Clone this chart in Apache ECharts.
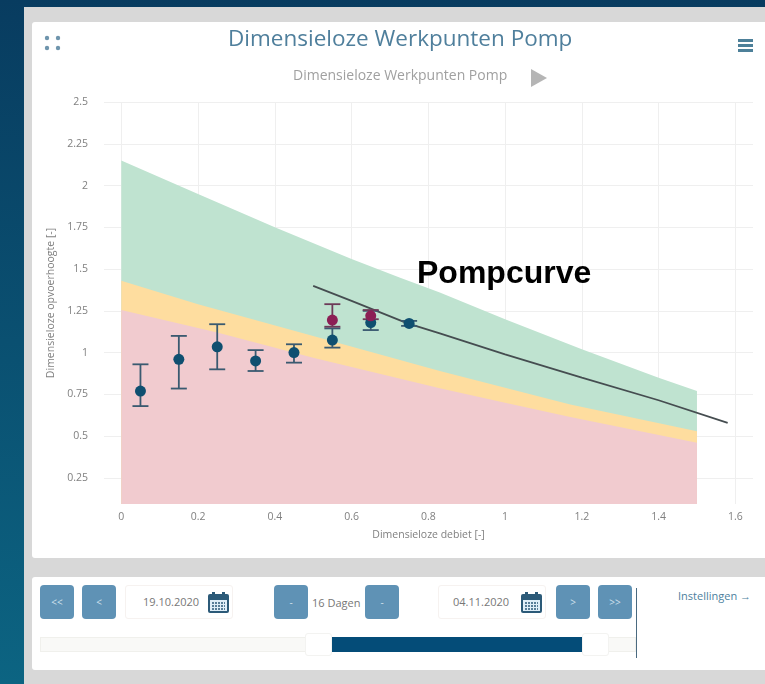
<!DOCTYPE html>
<html>
<head>
<meta charset="utf-8">
<title>Dimensieloze Werkpunten Pomp</title>
<script src="https://cdn.jsdelivr.net/npm/echarts@6/dist/echarts.min.js"></script>
<style>
  html, body { margin: 0; height: 100%; overflow: hidden; }
  body { background: linear-gradient(#083c60, #0c6482); font-family: "Open Sans", sans-serif; }
  .abs { position: absolute; box-sizing: border-box; }
  #panel { left: 24px; top: 7px; width: 741px; height: 677px; background: #d8d8d8; }
  #card1 { left: 32px; top: 22px; width: 733px; height: 536px; background: #fff; border-radius: 3px 0 0 3px; }
  #card2 { left: 32px; top: 577px; width: 733px; height: 93px; background: #fff; border-radius: 3px 0 0 3px; }
  #chart { left: 32px; top: 22px; width: 733px; height: 536px; }
  .btn { top: 585px; width: 34px; height: 34px; background: #5f92b5; color: #cfe0ec; border-radius: 4px;
         font-size: 10px; line-height: 34px; text-align: center; }
  .date { top: 585px; height: 34px; border: 1px solid #f6f2f0; border-radius: 3px; color: #777; font-size: 11px; line-height: 32px; }
  .date svg { position: absolute; top: 5px; right: 2px; }
  .lbl { color: #777; font-size: 11px; }
</style>
</head>
<body>
<div class="abs" id="panel"></div>
<div class="abs" id="card1"></div>
<div class="abs" id="card2"></div>
<div class="abs" id="chart"></div>

<div class="abs btn" style="left:40px">&lt;&lt;</div>
<div class="abs btn" style="left:82px">&lt;</div>
<div class="abs date" style="left:125px;width:108px;padding-left:17px">19.10.2020<svg width="23" height="23" viewBox="0 0 23 23"><rect x="1" y="3" width="21" height="19" rx="2" fill="#2c5a78"/><rect x="3" y="9" width="17" height="11" fill="#dfeef8"/><rect x="5" y="1" width="3" height="5" fill="#2c5a78"/><rect x="15" y="1" width="3" height="5" fill="#2c5a78"/><path d="M5 12h13M5 15h13M5 18h13" stroke="#2c5a78" stroke-width="1.5" stroke-dasharray="2 1"/></svg></div>
<div class="abs btn" style="left:274px">-</div>
<div class="abs lbl" style="left:312px;top:595px">16 Dagen</div>
<div class="abs btn" style="left:365px">-</div>
<div class="abs date" style="left:438px;width:108px;padding-left:14px">04.11.2020<svg width="23" height="23" viewBox="0 0 23 23"><rect x="1" y="3" width="21" height="19" rx="2" fill="#2c5a78"/><rect x="3" y="9" width="17" height="11" fill="#dfeef8"/><rect x="5" y="1" width="3" height="5" fill="#2c5a78"/><rect x="15" y="1" width="3" height="5" fill="#2c5a78"/><path d="M5 12h13M5 15h13M5 18h13" stroke="#2c5a78" stroke-width="1.5" stroke-dasharray="2 1"/></svg></div>
<div class="abs btn" style="left:556px">&gt;</div>
<div class="abs btn" style="left:598px">&gt;&gt;</div>
<div class="abs" style="left:636px;top:588px;width:1px;height:70px;background:#4a6a80"></div>
<div class="abs" style="left:678px;top:588px;color:#4d7f9e;font-size:11px">Instellingen →</div>

<div class="abs" style="left:40px;top:637px;width:596px;height:15px;background:#f9f9f7;border:1px solid #f0f0ec"></div>
<div class="abs" style="left:332px;top:637px;width:250px;height:15px;background:#044c78"></div>
<div class="abs" style="left:305px;top:633px;width:27px;height:23px;background:#fff;border:1px solid #f3f3f1;border-radius:3px"></div>
<div class="abs" style="left:582px;top:633px;width:27px;height:23px;background:#fff;border:1px solid #f3f3f1;border-radius:3px"></div>

<script>
// zones (dimensionless flow, head)
const greenZone = [[0, 2.15], [0.2, 1.95], [0.4, 1.75], [0.6, 1.56], [0.725, 1.45], [0.83, 1.36], [1.0, 1.2], [1.2, 1.02], [1.4, 0.85], [1.5, 0.77]];
const orangeZone = [[0, 1.43], [0.2, 1.29], [0.5, 1.1], [0.83, 0.89], [1.0, 0.79], [1.17, 0.69], [1.5, 0.53]];
const redZone = [[0, 1.255], [0.25, 1.12], [0.5, 0.97], [0.83, 0.787], [1.0, 0.7], [1.17, 0.615], [1.5, 0.46]];

const pompCurve = [[0.5, 1.4], [0.6, 1.31], [0.746, 1.175], [0.83, 1.115], [1.0, 0.99], [1.2, 0.85], [1.4, 0.715], [1.58, 0.58]];

// working points: flow, mean, low, high
const blueFlow = [0.05, 0.15, 0.25, 0.35, 0.45, 0.55, 0.65, 0.75];
const blueMean = [0.77, 0.96, 1.035, 0.95, 1.0, 1.075, 1.18, 1.175];
const blueLow = [0.68, 0.785, 0.9, 0.89, 0.94, 1.03, 1.135, 1.16];
const blueHigh = [0.93, 1.1, 1.17, 1.015, 1.05, 1.145, 1.25, 1.19];

const redFlow = [0.55, 0.65];
const redMean = [1.195, 1.22];
const redLow = [1.155, 1.2];
const redHigh = [1.29, 1.255];

const xTicks = [0, 0.2, 0.4, 0.6, 0.8, 1, 1.2, 1.4, 1.6];
const yTicks = [0.25, 0.5, 0.75, 1, 1.25, 1.5, 1.75, 2, 2.25, 2.5];

const zoneSeries = (data, color) => ({
  type: 'line',
  data: data,
  symbol: 'none',
  silent: true,
  lineStyle: { width: 0 },
  areaStyle: { color: color, opacity: 1, origin: 'start' }
});

const whiskers = (flow, low, high, color) => ({
  type: 'custom',
  data: flow.map((f, i) => [f, low[i], high[i]]),
  encode: { x: 0, y: [1, 2] },
  z: 4,
  renderItem: (params, api) => {
    let lo = api.coord([api.value(0), api.value(1)]);
    let hi = api.coord([api.value(0), api.value(2)]);
    let style = { stroke: color, lineWidth: 1.8, fill: 'none' };
    return {
      type: 'group',
      children: [
        { type: 'line', shape: { x1: lo[0], y1: lo[1], x2: hi[0], y2: hi[1] }, style: style },
        { type: 'line', shape: { x1: lo[0] - 8, y1: lo[1], x2: lo[0] + 8, y2: lo[1] }, style: style },
        { type: 'line', shape: { x1: hi[0] - 8, y1: hi[1], x2: hi[0] + 8, y2: hi[1] }, style: style }
      ]
    };
  }
});

const dots = (flow, mean, color) => ({
  type: 'scatter',
  data: flow.map((f, i) => [f, mean[i]]),
  symbolSize: 11,
  itemStyle: { color: color, opacity: 1 },
  z: 5
});

const axisFont = { color: '#808080', fontSize: 10.5, fontFamily: 'Open Sans' };
const gridLine = { show: true, lineStyle: { color: '#efefef', width: 1 } };

let chart = echarts.init(document.getElementById('chart'));
chart.setOption({
  backgroundColor: 'transparent',
  animation: false,
  title: {
    text: 'Dimensieloze Werkpunten Pomp',
    left: 191,
    top: 1,
    textStyle: { color: '#4f7f9c', fontSize: 22.5, fontWeight: 'normal', fontFamily: 'Open Sans' }
  },
  grid: { left: 72, right: 12, top: 80, height: 402 },
  xAxis: {
    type: 'value',
    min: -0.045,
    max: 1.646,
    name: 'Dimensieloze debiet [-]',
    nameLocation: 'middle',
    nameGap: 26,
    nameTextStyle: axisFont,
    axisLine: { show: false },
    axisTick: { show: false, customValues: xTicks },
    axisLabel: Object.assign({ margin: 8, customValues: xTicks, showMinLabel: true, showMaxLabel: true }, axisFont),
    splitLine: gridLine
  },
  yAxis: {
    type: 'value',
    min: 0.094,
    max: 2.5,
    name: 'Dimensieloze opvoerhoogte [-]',
    nameLocation: 'middle',
    nameGap: 46,
    nameTextStyle: axisFont,
    axisLine: { show: false },
    axisTick: { show: false, customValues: yTicks },
    axisLabel: Object.assign({ margin: 16, customValues: yTicks }, axisFont),
    splitLine: gridLine
  },
  graphic: [
    // subtitle with play marker
    { type: 'text', left: 261, top: 47, style: { text: 'Dimensieloze Werkpunten Pomp', fill: '#a0a0a0', fontSize: 14, fontFamily: 'Open Sans' } },
    { type: 'polygon', shape: { points: [[499, 47], [515, 56], [499, 65]] }, style: { fill: '#b5b5b5' } },
    // export menu
    { type: 'rect', shape: { x: 706, y: 17, width: 15, height: 3 }, style: { fill: '#4d8099' } },
    { type: 'rect', shape: { x: 706, y: 22, width: 15, height: 3 }, style: { fill: '#4d8099' } },
    { type: 'rect', shape: { x: 706, y: 27, width: 15, height: 3 }, style: { fill: '#4d8099' } },
    // fullscreen dots
    { type: 'circle', shape: { cx: 15, cy: 16, r: 2.2 }, style: { fill: '#6f95ad' } },
    { type: 'circle', shape: { cx: 26, cy: 16, r: 2.2 }, style: { fill: '#6f95ad' } },
    { type: 'circle', shape: { cx: 15, cy: 26, r: 2.2 }, style: { fill: '#6f95ad' } },
    { type: 'circle', shape: { cx: 26, cy: 26, r: 2.2 }, style: { fill: '#6f95ad' } },
    // hand-placed annotation
    { type: 'text', z: 10, left: 385, top: 236, style: { text: 'Pompcurve', fill: '#000', fontSize: 32, fontWeight: 'bold', fontFamily: 'Liberation Sans' } }
  ],
  series: [
    zoneSeries(greenZone, '#bfe3d0'),
    zoneSeries(orangeZone, '#fedd9f'),
    zoneSeries(redZone, '#f1cbcf'),
    {
      type: 'line',
      data: pompCurve,
      symbol: 'none',
      z: 3,
      lineStyle: { color: '#454d50', width: 1.8 }
    },
    whiskers(blueFlow, blueLow, blueHigh, '#3a5a70'),
    whiskers(redFlow, redLow, redHigh, '#6d3a58'),
    dots(blueFlow, blueMean, '#0f4f70'),
    dots(redFlow, redMean, '#8c1f55')
  ]
});
</script>
</body>
</html>
